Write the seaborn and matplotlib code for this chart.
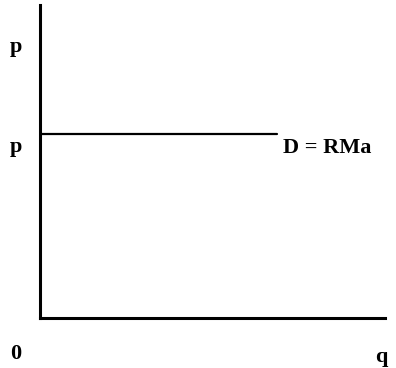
import matplotlib
matplotlib.use("Agg")
import matplotlib.pyplot as plt
import seaborn as sns
import pandas as pd

# demand curve: perfectly elastic at price p
quantity = [0.0, 6.87]
price = [5.88, 5.88]
demand_label = "D = RMa"
price_label = "p"
quantity_label = "q"
origin_label = "0"

sns.set_style("white")
plt.rcParams["font.family"] = ["Liberation Serif", "DejaVu Serif"]
plt.rcParams["text.color"] = "black"

fig = plt.figure(figsize=(3.96, 3.68), dpi=100)
ax = fig.add_axes([40 / 396, 50 / 368, 345 / 396, 313 / 368])

df = pd.DataFrame({"q": quantity, "p": price})
sns.lineplot(data=df, x="q", y="p", color="black", linewidth=1.6, ax=ax)

ax.set_xlim(0, 10)
ax.set_ylim(0, 10)
sns.despine(ax=ax)
for side in ["left", "bottom"]:
    ax.spines[side].set_linewidth(2.2)
    ax.spines[side].set_color("black")

ax.set_xticks([])
ax.set_yticks([])
ax.set_xlabel("")
ax.set_ylabel("")

bold = dict(fontsize=16, fontweight="bold", va="baseline", clip_on=False)
# axis name and price level
ax.text(-0.7, 8.5, price_label, ha="center", **bold)
ax.text(-0.7, 5.3, price_label, ha="center", **bold)
ax.text(quantity[-1] + 0.17, 5.27, demand_label, ha="left", **bold)
ax.text(9.9, -1.4, quantity_label, ha="center", **bold)
ax.text(-0.7, -1.3, origin_label, ha="center", **bold)

fig.savefig("out.png", dpi=100)
